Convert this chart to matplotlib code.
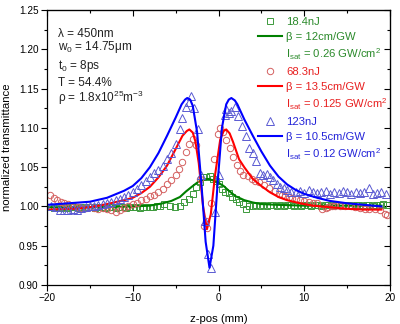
" Z-scan transmittance plot (three pulse energies, fits) "

import matplotlib
matplotlib.use("Agg")
import matplotlib.pyplot as plt
from matplotlib.lines import Line2D

plt.rcParams["font.family"] = ["Liberation Sans", "DejaVu Sans"]
plt.rcParams["mathtext.default"] = "regular"

# ---- measured data (read off the figure) ----
# 18.4 nJ, squares
z_18 = [-19.6, -19.2, -18.8, -18.4, -18.0, -17.6, -17.2, -16.8, -16.4, -16.0,
        -15.6, -15.2, -14.8, -14.4, -14.0, -13.6, -13.2, -12.8, -12.4, -12.0,
        -11.6, -11.2, -10.8, -10.4, -10.0, -9.6, -9.2, -8.8, -8.4, -8.0,
        -7.6, -7.2, -6.8, -6.3, -5.7, -5.1, -4.5, -4.0, -3.4, -3.0,
        -2.6, -2.2, -1.8, -1.4, -1.0, -0.65, -0.3, 0.1, 0.4, 0.8,
        1.2, 1.6, 2.0, 2.4, 2.8, 3.2, 3.6, 4.0, 4.4, 4.8,
        5.2, 5.6, 6.0, 6.4, 6.8, 7.2, 7.6, 8.0, 8.4, 8.8,
        9.2, 9.6, 10.0, 10.4, 10.8, 11.2, 11.6, 12.0, 12.4, 12.8,
        13.2, 13.6, 14.0, 14.4, 14.8, 15.2, 15.6, 16.0, 16.4, 16.8,
        17.2, 17.6, 18.0, 18.4, 18.8, 19.2, 19.6]
t_18 = [0.999, 0.998, 0.999, 0.998, 0.999, 0.998, 0.999, 0.999, 0.998, 0.999,
        0.998, 0.999, 0.999, 0.998, 0.999, 0.999, 0.998, 0.999, 0.999, 0.998,
        0.999, 0.999, 0.998, 0.999, 0.999, 0.999, 0.998, 0.999, 0.999, 0.999,
        0.999, 1.000, 1.000, 1.003, 1.001, 0.999, 1.001, 1.006, 1.010, 1.016,
        1.025, 1.031, 1.037, 1.037, 1.039, 1.035, 1.033, 1.028, 1.022, 1.018,
        1.017, 1.012, 1.009, 1.006, 1.003, 0.997, 1.000, 1.001, 1.002, 1.001,
        1.002, 1.001, 1.002, 1.002, 1.001, 1.002, 1.001, 1.002, 1.002, 1.001,
        1.002, 1.001, 1.002, 1.002, 1.001, 1.002, 1.002, 1.001, 1.002, 1.002,
        1.001, 1.002, 1.002, 1.001, 1.002, 1.002, 1.001, 1.002, 1.002, 1.001,
        1.002, 1.002, 1.001, 1.002, 1.002, 1.003, 1.002]

# 68.3 nJ, circles
z_68 = [-19.6, -19.2, -18.8, -18.4, -18.0, -17.6, -17.2, -16.8, -16.4, -16.0,
        -15.5, -15.0, -14.5, -14.0, -13.5, -13.0, -12.5, -12.0, -11.5, -11.0,
        -10.5, -10.0, -9.5, -9.0, -8.5, -8.0, -7.5, -7.0, -6.5, -6.0,
        -5.5, -5.0, -4.6, -4.2, -3.8, -3.4, -3.0, -2.6, -2.2, -1.65,
        -1.4, -1.3, -0.9, -0.47, -0.1, 0.15, 0.5, 0.9, 1.3, 1.7,
        2.1, 2.5, 2.9, 3.4, 3.9, 4.3, 4.7, 5.3, 5.9, 6.6,
        7.0, 7.4, 7.8, 8.2, 8.6, 9.0, 9.5, 10.0, 10.5, 11.0,
        11.5, 12.1, 12.5, 12.8, 13.2, 13.6, 14.2, 14.8, 15.4, 15.9,
        16.5, 17.1, 17.6, 18.2, 18.8, 19.4, 19.7]
t_68 = [1.014, 1.011, 1.008, 1.006, 1.004, 1.003, 1.001, 1.000, 0.999, 0.998,
        0.998, 0.999, 0.998, 0.997, 0.998, 0.997, 0.995, 0.993, 0.995, 0.998,
        1.001, 1.003, 1.005, 1.008, 1.010, 1.013, 1.015, 1.018, 1.022, 1.028,
        1.034, 1.040, 1.048, 1.056, 1.069, 1.080, 1.086, 1.078, 1.035, 0.975,
        0.982, 0.972, 1.005, 1.060, 1.092, 1.100, 1.095, 1.085, 1.075, 1.063,
        1.053, 1.045, 1.040, 1.039, 1.035, 1.033, 1.031, 1.027, 1.024, 1.020,
        1.016, 1.014, 1.013, 1.012, 1.011, 1.010, 1.008, 1.007, 1.006, 1.005,
        1.004, 0.997, 0.998, 0.999, 1.000, 1.001, 1.000, 1.001, 1.000, 0.999,
        0.998, 0.997, 0.997, 0.997, 0.995, 0.991, 0.989]

# 123 nJ, triangles
z_123 = [-19.5, -19.0, -18.5, -18.0, -17.5, -17.0, -16.5, -16.0, -15.5, -15.0,
         -14.5, -14.0, -13.5, -13.0, -12.5, -12.0, -11.5, -11.0, -10.5, -10.0,
         -9.5, -9.0, -8.5, -8.0, -7.5, -7.0, -6.5, -6.0, -5.5, -5.0,
         -4.5, -4.2, -3.8, -3.4, -3.2, -2.8, -2.4, -2.0, -1.6, -1.25,
         -0.85, -0.4, 0.1, 0.7, 0.9, 1.2, 1.5, 1.9, 2.3, 2.7,
         3.2, 3.6, 4.0, 4.4, 4.8, 5.2, 5.6, 6.0, 6.4, 6.8,
         7.2, 7.6, 8.0, 8.5, 9.0, 9.5, 10.0, 10.5, 11.0, 11.5,
         12.0, 12.5, 13.0, 13.5, 14.0, 14.5, 15.0, 15.5, 16.0, 16.5,
         17.0, 17.6, 18.0, 18.5, 19.0, 19.5]
t_123 = [1.001, 0.999, 0.996, 0.995, 0.996, 0.997, 0.996, 0.998, 0.999, 1.000,
         1.001, 1.002, 1.003, 1.004, 1.006, 1.008, 1.010, 1.012, 1.015, 1.018,
         1.022, 1.027, 1.033, 1.037, 1.042, 1.047, 1.052, 1.060, 1.068, 1.080,
         1.098, 1.112, 1.126, 1.133, 1.141, 1.125, 1.099, 1.040, 0.982, 0.940,
         0.922, 0.993, 1.040, 1.116, 1.124, 1.119, 1.122, 1.126, 1.115, 1.103,
         1.090, 1.075, 1.068, 1.058, 1.042, 1.040, 1.041, 1.038, 1.034, 1.028,
         1.025, 1.024, 1.021, 1.019, 1.018, 1.020, 1.017, 1.021, 1.019, 1.017,
         1.018, 1.020, 1.016, 1.019, 1.017, 1.020, 1.018, 1.016, 1.019, 1.017,
         1.018, 1.023, 1.016, 1.017, 1.018, 1.016]

# ---- fitted curves ----
zf_18 = [-20, -15, -10, -8, -6.5, -5.5, -4.5, -3.8, -3.0, -2.4, -1.8, -1.2,
         -0.6, 0, 0.6, 1.2, 2.0, 3.0, 4.0, 5.0, 7, 10, 15, 19]
tf_18 = [0.999, 0.999, 1.000, 1.001, 1.004, 1.007, 1.012, 1.019, 1.026, 1.031,
         1.034, 1.035, 1.033, 1.030, 1.026, 1.020, 1.013, 1.008, 1.005, 1.003,
         1.002, 1.001, 1.001, 1.001]

zf_68 = [-20, -17, -15, -13, -11, -10, -9, -8, -7, -6, -5, -4.2, -3.7, -3.4,
         -3.0, -2.7, -2.3, -1.8, -1.35, -0.9, -0.4, 0.2, 0.6, 0.9, 1.3, 1.7,
         2.4, 3.0, 4, 5, 6, 7, 8, 9.5, 11, 13, 15, 17, 19]
tf_68 = [0.996, 0.997, 0.999, 1.003, 1.008, 1.011, 1.017, 1.025, 1.037, 1.052,
         1.073, 1.090, 1.096, 1.098, 1.094, 1.083, 1.055, 1.000, 0.971, 0.990,
         1.040, 1.085, 1.096, 1.098, 1.093, 1.082, 1.060, 1.050, 1.035, 1.026,
         1.018, 1.012, 1.008, 1.004, 1.001, 0.999, 0.997, 0.996, 0.996]

zf_123 = [-20, -17.5, -15, -13, -11, -10, -9, -8, -7, -6, -5, -4.3, -3.9,
          -3.65, -3.3, -3.0, -2.5, -2.0, -1.5, -1.05, -0.6, -0.1, 0.4, 0.9,
          1.2, 1.5, 1.9, 2.2, 3.0, 4.0, 5.0, 6.0, 7.0, 8.0, 9, 10, 11.5, 13,
          15, 17, 19]
tf_123 = [1.002, 1.004, 1.006, 1.011, 1.020, 1.026, 1.036, 1.050, 1.068, 1.090,
          1.113, 1.130, 1.136, 1.138, 1.136, 1.128, 1.095, 1.030, 0.955, 0.922,
          0.950, 1.030, 1.100, 1.130, 1.136, 1.138, 1.135, 1.130, 1.111, 1.090,
          1.070, 1.052, 1.038, 1.028, 1.021, 1.016, 1.011, 1.007, 1.004, 1.002,
          1.000]

labels_energy = ["18.4nJ", "68.3nJ", "123nJ"]
labels_beta = ["β = 12cm/GW", "β = 13.5cm/GW", "β = 10.5cm/GW"]
labels_isat = ["I$_{sat}$ = 0.26 GW/cm$^2$", "I$_{sat}$ = 0.125 GW/cm$^2$",
               "I$_{sat}$ = 0.12 GW/cm$^2$"]
params_text = ["λ = 450nm", "w$_0$ = 14.75μm", "t$_0$ = 8ps", "T = 54.4%",
               "ρ = 1.8x10$^{25}$m$^{-3}$"]

line_colors = ["#008000", "#ff0000", "#0000ff"]
marker_colors = ["#3c9a3c", "#d46060", "#5a5ad2"]
text_colors = ["#2b8a2b", "#e82020", "#2424d8"]
markers = ["s", "o", "^"]
msizes = [3.8, 4.6, 5.6]

fig = plt.figure(figsize=(4.0, 3.24), dpi=100)
ax = fig.add_axes([0.1175, 0.1204, 0.8575, 0.8486])

data = [(z_18, t_18), (z_68, t_68), (z_123, t_123)]
fits = [(zf_18, tf_18), (zf_68, tf_68), (zf_123, tf_123)]

handles = []
labels = []
label_colors = []
for i in range(3):
    ax.plot(data[i][0], data[i][1], linestyle="None", marker=markers[i],
            markersize=msizes[i], markerfacecolor="none",
            markeredgecolor=marker_colors[i], markeredgewidth=0.7)
    ax.plot(fits[i][0], fits[i][1], color=line_colors[i], linewidth=1.5)
    handles += [
        Line2D([], [], linestyle="None", marker=markers[i], markersize=msizes[i],
               markerfacecolor="none", markeredgecolor=marker_colors[i],
               markeredgewidth=0.7),
        Line2D([], [], color=line_colors[i], linewidth=1.5),
        Line2D([], [], linestyle="None"),
    ]
    labels += [labels_energy[i], labels_beta[i], labels_isat[i]]
    label_colors += [text_colors[i]] * 3

ax.legend(handles, labels, labelcolor=label_colors, frameon=False,
          loc="upper left", bbox_to_anchor=(0.615, 0.975), borderpad=0,
          borderaxespad=0, handlelength=2.1, handletextpad=0.4,
          labelspacing=0.43, fontsize=8.1)

y_pos = [0.903, 0.855, 0.785, 0.725, 0.667]
for s, yp in zip(params_text, y_pos):
    ax.text(0.032, yp, s, transform=ax.transAxes, fontsize=8.5,
            va="baseline", ha="left", color="#222222")

ax.set_xlim(-20, 20)
ax.set_ylim(0.90, 1.25)
ax.set_xticks([-20, -10, 0, 10, 20])
ax.set_xticks([-15, -5, 5, 15], minor=True)
ax.set_yticks([0.90, 0.95, 1.00, 1.05, 1.10, 1.15, 1.20, 1.25])
ax.set_yticks([0.925, 0.975, 1.025, 1.075, 1.125, 1.175, 1.225], minor=True)
ax.yaxis.set_major_formatter(matplotlib.ticker.FormatStrFormatter("%.2f"))
ax.tick_params(which="major", direction="out", length=4, width=0.8,
               labelsize=7.2, pad=2)
ax.tick_params(which="minor", direction="out", length=2, width=0.8)

# mirrored ticks pointing inward on top and right
top = ax.secondary_xaxis("top")
top.set_xticks([-20, -10, 0, 10, 20])
top.set_xticks([-15, -5, 5, 15], minor=True)
top.tick_params(which="major", direction="in", length=4, width=0.8,
                labeltop=False)
top.tick_params(which="minor", direction="in", length=2, width=0.8)
right = ax.secondary_yaxis("right")
right.set_yticks([0.90, 0.95, 1.00, 1.05, 1.10, 1.15, 1.20, 1.25])
right.set_yticks([0.925, 0.975, 1.025, 1.075, 1.125, 1.175, 1.225], minor=True)
right.tick_params(which="major", direction="in", length=4, width=0.8,
                  labelright=False)
right.tick_params(which="minor", direction="in", length=2, width=0.8)

for spine in ax.spines.values():
    spine.set_linewidth(0.9)

ax.set_xlabel("z-pos (mm)", fontsize=8.2, labelpad=8)
ax.set_ylabel("normalized transmittance", fontsize=8.2, labelpad=5)

fig.savefig("out.png", dpi=100)
